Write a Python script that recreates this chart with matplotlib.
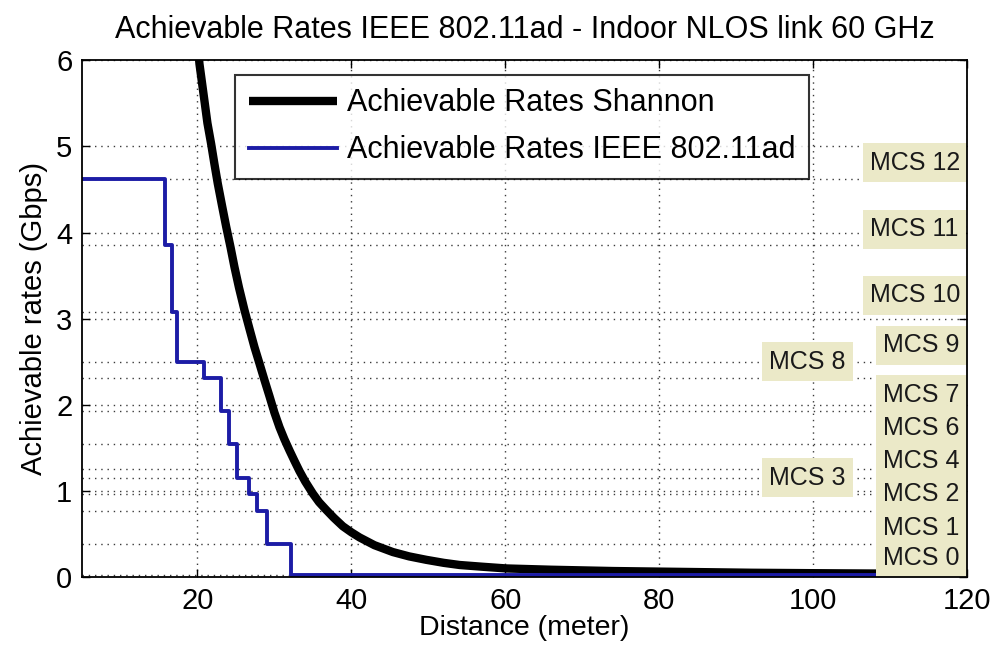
import matplotlib
matplotlib.use("Agg")
import matplotlib.pyplot as plt

plt.rcParams['font.family'] = ['Liberation Sans', 'DejaVu Sans']

# ---- data ----
shannon_dist = [20.0, 20.26, 20.91, 21.3, 21.78, 22.2, 22.64, 23.2, 23.73, 24.3, 24.81,
                25.4, 26.11, 26.8, 27.41, 28.06, 28.7, 29.36, 30.0, 30.66, 31.3, 31.96,
                32.6, 33.26, 34.0, 34.99, 35.8, 36.73, 37.7, 38.89, 40.0, 41.07, 43.0,
                45.40, 47.5, 49.74, 52.0, 54.07, 57.0, 60.14, 66.0, 74.0, 83.0, 92.0,
                100.0, 110.0, 120.0]
shannon_rate = [6.25, 5.96, 5.53, 5.27, 5.03, 4.80, 4.57, 4.31, 4.07, 3.83, 3.60,
                3.36, 3.10, 2.87, 2.67, 2.48, 2.29, 2.10, 1.91, 1.74, 1.60, 1.47,
                1.35, 1.23, 1.11, 0.97, 0.87, 0.78, 0.69, 0.59, 0.52, 0.46, 0.37,
                0.29, 0.24, 0.20, 0.165, 0.14, 0.12, 0.10, 0.085, 0.07, 0.06, 0.05,
                0.045, 0.04, 0.035]

# IEEE 802.11ad step curve: rate levels and distances where each level starts
ieee_start = [5.0, 15.73, 16.64, 17.28, 20.91, 23.11, 24.14, 25.18, 26.73, 27.77, 29.06, 32.17]
ieee_rate = [4.62, 3.85, 3.08, 2.5025, 2.31, 1.925, 1.54, 1.155, 0.9625, 0.77, 0.385, 0.0275]
ieee_end = 120.0

# MCS rates (Gbps)
mcs_ids = [0, 1, 2, 3, 4, 5, 6, 7, 8, 9, 10, 11, 12]
mcs_rates = [0.0275, 0.385, 0.770, 0.9625, 1.155, 1.25125, 1.540, 1.925, 2.310, 2.5025, 3.080, 3.850, 4.620]
mcs_labeled = [0, 1, 2, 3, 4, 6, 7, 8, 9, 10, 11, 12]

title = "Achievable Rates IEEE 802.11ad - Indoor NLOS link 60 GHz"
xlabel = "Distance (meter)"
ylabel = "Achievable rates (Gbps)"
legend_labels = ["Achievable Rates Shannon", "Achievable Rates IEEE 802.11ad"]
xticks = [20, 40, 60, 80, 100, 120]
yticks = [0, 1, 2, 3, 4, 5, 6]

# ---- figure ----
fig = plt.figure(figsize=(10, 6.55), dpi=100)
ax = fig.add_axes([0.082, 0.119, 0.885, 0.789])

grid_kw = dict(color='#3a3a3a', linestyle=(0, (1, 3.5)), linewidth=1.0, zorder=1)
for xv in xticks:
    ax.axvline(xv, **grid_kw)
for yv in yticks:
    ax.axhline(yv, **grid_kw)
for r in mcs_rates:
    ax.axhline(r, **grid_kw)

ax.plot(shannon_dist, shannon_rate, color='black', linewidth=6.0,
        label=legend_labels[0], zorder=3, solid_capstyle='butt', solid_joinstyle='round')
ax.step(ieee_start + [ieee_end], ieee_rate + [ieee_rate[-1]], where='post',
        color='#1c1ca6', linewidth=2.8, label=legend_labels[1], zorder=4)

# MCS labels
label_x = {12: 107.4, 11: 107.4, 10: 107.4, 8: 94.3, 3: 94.3}
for i in mcs_labeled:
    r = mcs_rates[mcs_ids.index(i)]
    x = label_x.get(i, 109.1)
    ax.text(x, r + 0.05, f"MCS {i}", fontsize=18, color='#1a1a1a', ha='left', va='bottom',
            clip_on=True, zorder=6,
            bbox=dict(boxstyle='square,pad=0.3', facecolor='#ebe9c8', edgecolor='none'))

ax.set_xlim(5, 120)
ax.set_ylim(0, 6)
ax.set_xticks(xticks)
ax.set_yticks(yticks)
ax.tick_params(direction='in', length=6, width=1, top=True, right=True,
               labelsize=21, pad=7, colors='black')
for s in ax.spines.values():
    s.set_linewidth(1.3)
    s.set_zorder(7)

ax.set_title(title, fontsize=22, pad=16)
ax.set_xlabel(xlabel, fontsize=20.5, labelpad=0)
ax.set_ylabel(ylabel, fontsize=21, labelpad=6)

leg = ax.legend(loc='upper left', bbox_to_anchor=(0.173, 0.972), fontsize=22,
                frameon=True, fancybox=False, edgecolor='black', borderaxespad=0,
                handlelength=2.9, handletextpad=0.3, borderpad=0.45, labelspacing=0.55)
leg.get_frame().set_linewidth(1.5)
leg.set_zorder(8)

fig.savefig("out.png", dpi=100)
